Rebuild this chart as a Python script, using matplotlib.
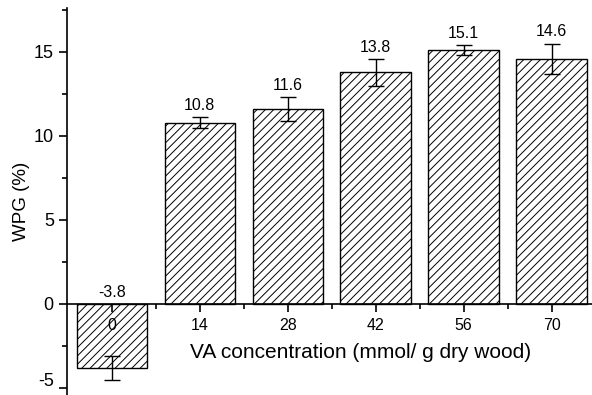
import numpy as np
import matplotlib.pyplot as plt
from matplotlib.ticker import MultipleLocator
from matplotlib.transforms import ScaledTranslation

plt.rcParams['font.family'] = ['Liberation Sans', 'DejaVu Sans']
plt.rcParams['hatch.linewidth'] = 0.7
plt.rcParams['axes.unicode_minus'] = False

# weight percent gain for each vinyl acetate loading
concentrations = ['0', '14', '28', '42', '56', '70']
wpg = [-3.8, 10.8, 11.6, 13.8, 15.1, 14.6]
wpg_err = [0.7, 0.32, 0.7, 0.8, 0.3, 0.9]


def plot_wpg():
    fig = plt.figure(figsize=(5.92, 3.95), dpi=100)
    ax = fig.add_axes([0.1132, 0.0, 0.8868, 0.979])
    x = np.arange(len(concentrations))
    ax.bar(x, wpg, width=0.8, color='white', edgecolor='black',
           linewidth=1.0, hatch='////')
    ax.errorbar(x, wpg, yerr=wpg_err, fmt='none', ecolor='black',
                elinewidth=1.0, capsize=5.5, capthick=1.0)

    # value labels sit above the error bar, or above the zero line for negatives
    for xi, v, e in zip(x, wpg, wpg_err):
        base = v + e if v > 0 else 0
        ax.annotate(f'{v:.1f}', (xi, base), xytext=(0, 3),
                    textcoords='offset points', ha='center', va='bottom',
                    fontsize=11.5)

    ax.set_xlim(-0.51, 5.46)
    ax.set_ylim(-5.42, 17.6)
    ax.spines['top'].set_visible(False)
    ax.spines['right'].set_visible(False)
    ax.spines['bottom'].set_position(('data', 0))
    ax.spines['left'].set_linewidth(1.2)
    ax.spines['bottom'].set_linewidth(1.2)

    ax.set_xticks(x)
    ax.set_xticklabels(concentrations, fontsize=11.5)
    ax.xaxis.set_minor_locator(plt.FixedLocator(x[:-1] + 0.5))
    ax.yaxis.set_major_locator(MultipleLocator(5))
    ax.yaxis.set_minor_locator(MultipleLocator(2.5))
    ax.tick_params(axis='y', which='major', labelsize=13, length=6, width=1.2,
                   direction='out')
    ax.tick_params(axis='y', which='minor', length=3.5, width=1.2,
                   direction='out')
    ax.tick_params(axis='x', which='major', length=6, width=1.2,
                   direction='out', pad=4)
    ax.tick_params(axis='x', which='minor', length=3.5, width=1.2,
                   direction='out')

    ax.set_xlabel('VA concentration (mmol/ g dry wood)', fontsize=15)
    ax.xaxis.set_label_coords(0.56, 0.111)
    ax.xaxis.label.set_va('center')
    ax.set_ylabel('WPG (%)', fontsize=13.5, labelpad=3)

    # nudge the lowest tick label up so it stays inside the figure
    fig.canvas.draw()
    for lbl in ax.get_yticklabels():
        if lbl.get_text() == '-5':
            lbl.set_transform(lbl.get_transform() +
                              ScaledTranslation(0, 6 / 72, fig.dpi_scale_trans))

    fig.savefig('out.png', dpi=100)


if __name__ == '__main__':
    plot_wpg()
